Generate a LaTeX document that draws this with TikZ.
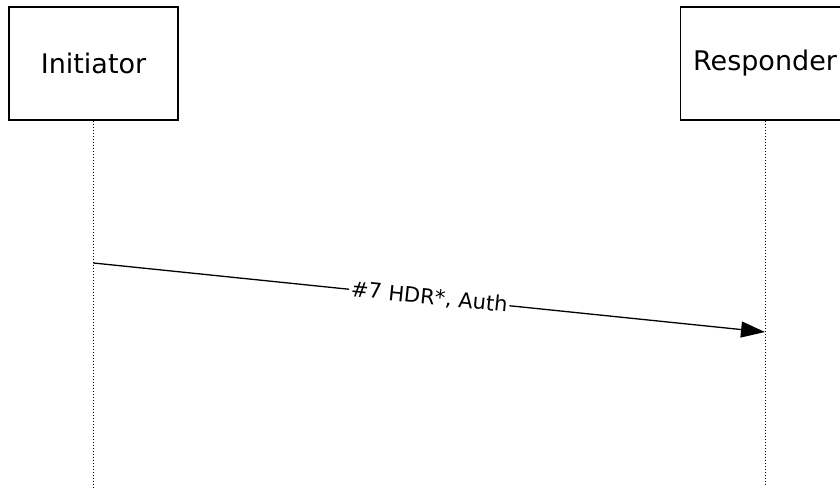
\documentclass[tikz,border=0pt]{standalone}
\usepackage{fontspec}
\setmainfont{DejaVu Sans}
\usetikzlibrary{arrows.meta,positioning}

\begin{document}
\begin{tikzpicture}[x=1pt, y=-1pt, font=\fontsize{27}{32}\selectfont, >={Triangle[length=24pt, width=16pt]}]
  \useasboundingbox (0,0) rectangle (840,494);
  \clip (0,0) rectangle (840,494);

  % participants
  \tikzstyle{actor}=[draw, line width=1.3pt, minimum width=169pt, minimum height=113pt, inner sep=0pt]
  \tikzstyle{life}=[line width=0.9pt, dash pattern=on 1.5pt off 1.5pt]
  \node[actor] (init) at (93.5,63.5) {Initiator};
  \node[actor] (resp) at (765,63.5) {Responder};

  % lifelines
  \coordinate (initEnd) at (93.5,488);
  \coordinate (respEnd) at (765,486);
  \draw[life] (init.south) -- (initEnd);
  \draw[life] (resp.south) -- (respEnd);

  % message
  \coordinate (msgFrom) at (93.5,263);
  \coordinate (msgTo) at (765,332);
  \draw[->, line width=1.3pt] (msgFrom) -- node[sloped, fill=white, inner sep=2pt, font=\fontsize{21}{25}\selectfont] {\#7 HDR*, Auth} (msgTo);
\end{tikzpicture}
\end{document}
